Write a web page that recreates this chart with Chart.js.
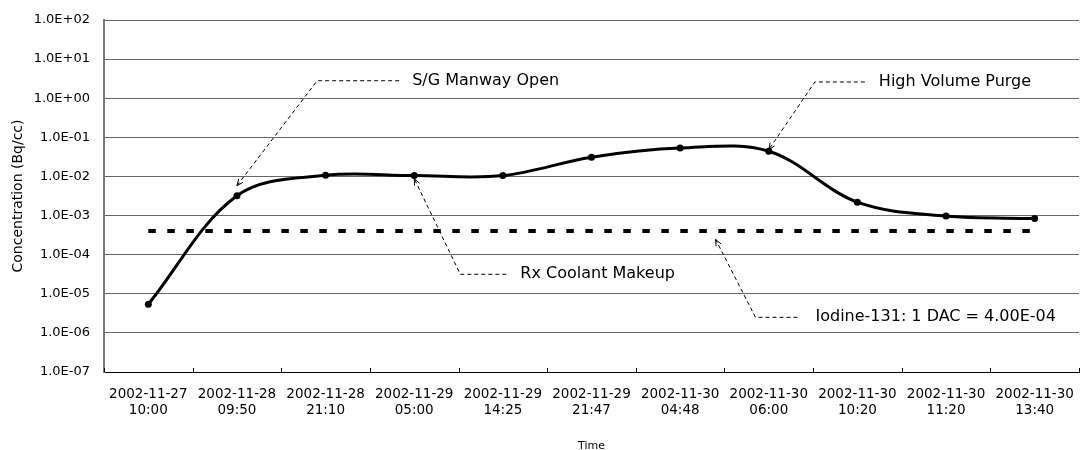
<!DOCTYPE html>
<html>
<head>
<meta charset="utf-8">
<script src="https://cdn.jsdelivr.net/npm/chart.js@4.4.1/dist/chart.umd.min.js"></script>
<style>
    html, body { margin: 0; padding: 0; background: #fff; overflow: hidden; }
    #wrap { width: 1083px; height: 450px; position: relative; }
</style>
</head>
<body>
<div id="wrap"><canvas id="concChart" width="1083" height="450"></canvas></div>
<script>
// sample times (two-line labels)
const timeLabels = [
    ['2002-11-27', '10:00'], ['2002-11-28', '09:50'], ['2002-11-28', '21:10'],
    ['2002-11-29', '05:00'], ['2002-11-29', '14:25'], ['2002-11-29', '21:47'],
    ['2002-11-30', '04:48'], ['2002-11-30', '06:00'], ['2002-11-30', '10:20'],
    ['2002-11-30', '11:20'], ['2002-11-30', '13:40']
];
// I-131 concentration, Bq/cc
const concentration = [5.4e-6, 3.2e-3, 1.07e-2, 1.05e-2, 1.05e-2, 3.1e-2, 5.3e-2, 4.4e-2, 2.2e-3, 9.7e-4, 8.4e-4];
const dacLimit = 4.0e-4;
const dacSeries = timeLabels.map(() => dacLimit);
const yTicks = [1e-7, 1e-6, 1e-5, 1e-4, 1e-3, 1e-2, 1e-1, 1e0, 1e1, 1e2];

// callouts: tip and elbow in data coords (category index, value)
const callouts = [
    { text: 'S/G Manway Open', tip: [1.0, 5.8e-3], elbow: [1.905, 2.8], dash: 82, gap: 13 },
    { text: 'Rx Coolant Makeup', tip: [3.0, 8.8e-3], elbow: [3.52, 3.15e-5], dash: 46, gap: 14 },
    { text: 'High Volume Purge', tip: [7.0, 4.85e-2], elbow: [7.52, 2.6], dash: 50, gap: 14 },
    { text: 'Iodine-131: 1 DAC = 4.00E-04', tip: [6.4, 2.46e-4], elbow: [6.85, 2.5e-6], dash: 42, gap: 18 }
];

function sciLabel(v) {
    const exp = Math.floor(Math.log10(v) + 1e-9);
    const mant = (v / Math.pow(10, exp)).toFixed(1);
    return mant + 'E' + (exp < 0 ? '-' : '+') + String(Math.abs(exp)).padStart(2, '0');
}

const calloutPlugin = {
    id: 'callouts',
    afterDatasetsDraw(chart) {
        const ctx = chart.ctx;
        const x = chart.scales.x, y = chart.scales.y;
        const area = chart.chartArea;

        // small inside tick marks between categories
        ctx.save();
        ctx.strokeStyle = '#000';
        ctx.lineWidth = 1;
        for (let i = 0; i <= timeLabels.length; i++) {
            const px = Math.round(x.getPixelForValue(i - 0.5)) + 0.5;
            ctx.beginPath();
            ctx.moveTo(px, area.bottom - 4);
            ctx.lineTo(px, area.bottom);
            ctx.stroke();
        }
        ctx.restore();

        callouts.forEach(c => {
            const tx = x.getPixelForValue(c.tip[0]), ty = y.getPixelForValue(c.tip[1]);
            const ex = x.getPixelForValue(c.elbow[0]), ey = y.getPixelForValue(c.elbow[1]);
            ctx.save();
            ctx.strokeStyle = '#000';
            ctx.lineWidth = 1;
            ctx.setLineDash([4, 3]);
            ctx.beginPath();
            ctx.moveTo(ex + c.dash, ey);
            ctx.lineTo(ex, ey);
            ctx.lineTo(tx, ty);
            ctx.stroke();
            // arrow head
            ctx.setLineDash([]);
            const ang = Math.atan2(ty - ey, tx - ex);
            const len = 7;
            ctx.beginPath();
            ctx.moveTo(tx - len * Math.cos(ang - 0.4), ty - len * Math.sin(ang - 0.4));
            ctx.lineTo(tx, ty);
            ctx.lineTo(tx - len * Math.cos(ang + 0.4), ty - len * Math.sin(ang + 0.4));
            ctx.stroke();
            ctx.fillStyle = '#000';
            ctx.font = '16px "DejaVu Sans"';
            ctx.textBaseline = 'middle';
            ctx.textAlign = 'left';
            ctx.fillText(c.text, ex + c.dash + c.gap, ey);
            ctx.restore();
        });
    }
};

const ctx = document.getElementById('concChart').getContext('2d');
const concChart = new Chart(ctx, {
    type: 'line',
    data: {
        labels: timeLabels,
        datasets: [
            {
                label: 'Concentration',
                data: concentration,
                borderColor: '#000',
                backgroundColor: '#000',
                borderWidth: 3,
                tension: 0.35,
                pointRadius: 3.5,
                pointBorderWidth: 0,
                pointBackgroundColor: '#000'
            },
            {
                label: 'DAC',
                data: dacSeries,
                borderColor: '#000',
                borderWidth: 4,
                borderDash: [7.5, 11.5],
                borderCapStyle: 'butt',
                pointRadius: 0,
                tension: 0
            }
        ]
    },
    options: {
        responsive: false,
        animation: false,
        layout: { padding: { top: 20, right: 0, bottom: 0, left: 0 } },
        plugins: {
            legend: { display: false },
            tooltip: { enabled: false }
        },
        scales: {
            x: {
                type: 'category',
                offset: true,
                grid: { display: false, drawTicks: false },
                border: { display: true, color: '#000', width: 1 },
                ticks: {
                    autoSkip: false,
                    maxRotation: 0,
                    padding: 15,
                    color: '#000',
                    font: { family: 'DejaVu Sans', size: 13.5, lineHeight: 1.18 }
                },
                title: {
                    display: true,
                    text: 'Time',
                    color: '#000',
                    font: { family: 'DejaVu Sans', size: 11 },
                    padding: { top: 0, bottom: -3 }
                },
                afterFit(scale) {
                    scale.height = 78;
                    scale.paddingLeft = 0;
                    scale.paddingRight = 0;
                }
            },
            y: {
                type: 'logarithmic',
                min: 1e-7,
                max: 1e2,
                grid: { color: '#666', lineWidth: 1, drawTicks: false },
                border: { display: true, color: '#777', width: 2 },
                afterBuildTicks(scale) {
                    scale.ticks = yTicks.map(v => ({ value: v }));
                },
                ticks: {
                    padding: 14,
                    color: '#000',
                    font: { family: 'DejaVu Sans', size: 13 },
                    callback: (v) => sciLabel(v)
                },
                title: {
                    display: true,
                    text: 'Concentration (Bq/cc)',
                    color: '#000',
                    font: { family: 'DejaVu Sans', size: 14 },
                    padding: { top: 10, bottom: 0 }
                },
                afterFit(scale) {
                    scale.width = 104;
                    scale.paddingTop = 0;
                    scale.paddingBottom = 0;
                }
            }
        }
    },
    plugins: [calloutPlugin]
});
</script>
</body>
</html>
